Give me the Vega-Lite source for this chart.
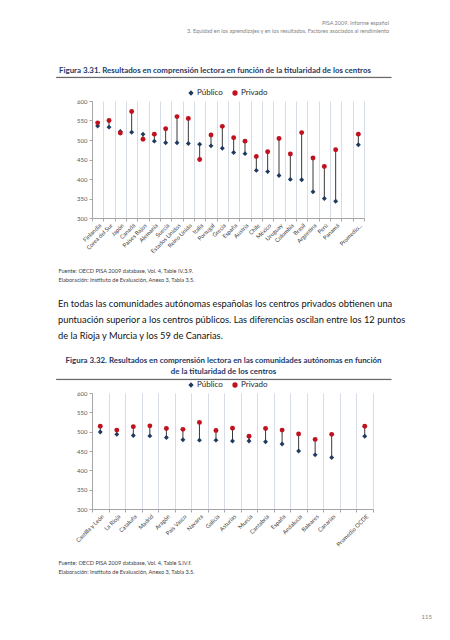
{
  "$schema": "https://vega.github.io/schema/vega-lite/v6.json",
  "padding": {"left": 55, "top": 20, "right": 0, "bottom": 0},
  "background": "white",
  "config": {
    "font": "Lato",
    "view": {"stroke": null},
    "title": {"frame": "group", "fontWeight": "normal"},
    "axis": {"labelFont": "Lato", "titleFont": "Lato"},
    "legend": {"labelFont": "Lato"}
  },
  "datasets": {
    "paises": [
      {"c": "Finlandia", "Público": 536, "Privado": 544},
      {"c": "Corea del Sur", "Público": 533, "Privado": 550},
      {"c": "Japón", "Público": 522, "Privado": 518},
      {"c": "Canadá", "Público": 520, "Privado": 573},
      {"c": "Países Bajos", "Público": 515, "Privado": 502},
      {"c": "Alemania", "Público": 497, "Privado": 515},
      {"c": "Suecia", "Público": 493, "Privado": 529},
      {"c": "Estados Unidos", "Público": 493, "Privado": 560},
      {"c": "Reino Unido", "Público": 491, "Privado": 555},
      {"c": "Italia", "Público": 489, "Privado": 450},
      {"c": "Portugal", "Público": 485, "Privado": 513},
      {"c": "Grecia", "Público": 479, "Privado": 535},
      {"c": "España", "Público": 468, "Privado": 506},
      {"c": "Austria", "Público": 465, "Privado": 497},
      {"c": "Chile", "Público": 422, "Privado": 458},
      {"c": "México", "Público": 419, "Privado": 470},
      {"c": "Uruguay", "Público": 409, "Privado": 504},
      {"c": "Colombia", "Público": 399, "Privado": 464},
      {"c": "Brasil", "Público": 398, "Privado": 519},
      {"c": "Argentina", "Público": 367, "Privado": 454},
      {"c": "Perú", "Público": 350, "Privado": 432},
      {"c": "Panamá", "Público": 343, "Privado": 475},
      {"c": "Promedio...", "Público": 488, "Privado": 515}
    ],
    "ccaa": [
      {"c": "Castilla y León", "Público": 499, "Privado": 514},
      {"c": "La Rioja", "Público": 493, "Privado": 504},
      {"c": "Cataluña", "Público": 490, "Privado": 513},
      {"c": "Madrid", "Público": 489, "Privado": 515},
      {"c": "Aragón", "Público": 485, "Privado": 508},
      {"c": "País Vasco", "Público": 479, "Privado": 506},
      {"c": "Navarra", "Público": 478, "Privado": 524},
      {"c": "Galicia", "Público": 478, "Privado": 503},
      {"c": "Asturias", "Público": 476, "Privado": 509},
      {"c": "Murcia", "Público": 476, "Privado": 488},
      {"c": "Cantabria", "Público": 474, "Privado": 508},
      {"c": "España", "Público": 468, "Privado": 504},
      {"c": "Andalucía", "Público": 450, "Privado": 494},
      {"c": "Baleares", "Público": 440, "Privado": 480},
      {"c": "Canarias", "Público": 433, "Privado": 493},
      {"c": "Promedio OCDE", "Público": 488, "Privado": 514}
    ]
  },
  "resolve": {"scale": {"color": "independent", "shape": "independent"}, "legend": {"color": "independent", "shape": "independent"}},
  "vconcat": [
    {
      "width": 335, "height": 41,
      "data": {"values": []}, "mark": {"type": "point", "opacity": 0}, "encoding": {},
      "title": {"text": ["PISA 2009. Informe español", "3. Equidad en los aprendizajes y en los resultados. Factores asociados al rendimiento"], "anchor": "end", "align": "right", "dx": -2, "fontSize": 5.5, "lineHeight": 8, "color": "#7F7F7F", "offset": 2}
    },
    {
      "width": 335, "height": 0.3,
      "view": {"stroke": "#595959", "strokeWidth": 0.8},
      "data": {"values": []}, "mark": {"type": "point", "opacity": 0}, "encoding": {},
      "title": {"text": "Figura 3.31. Resultados en comprensión lectora en función de la titularidad de los centros", "anchor": "start", "dx": 3, "offset": 2, "fontSize": 7.9, "fontWeight": "bold", "color": "#1F3864"}
    },
    {
      "width": 335, "height": 23,
      "data": {"values": []}, "mark": {"type": "point", "opacity": 0}, "encoding": {}
    },
    {
      "resolve": {"scale": {"color": "independent", "shape": "independent"}, "legend": {"color": "independent", "shape": "independent"}},
      "hconcat": [
        {"width": 36, "height": 117, "data": {"values": []}, "mark": {"type": "point", "opacity": 0}, "encoding": {}},
        {
          "width": 272, "height": 117,
          "data": {"name": "paises"},
          "encoding": {
            "x": {"field": "c", "type": "nominal",
              "scale": {"type": "band", "paddingInner": 0, "paddingOuter": 0, "domain": ["Finlandia", "Corea del Sur", "Japón", "Canadá", "Países Bajos", "Alemania", "Suecia", "Estados Unidos", "Reino Unido", "Italia", "Portugal", "Grecia", "España", "Austria", "Chile", "México", "Uruguay", "Colombia", "Brasil", "Argentina", "Perú", "Panamá", " ", "Promedio..."]},
              "axis": {"title": ["Fuente: OECD PISA 2009 database, Vol. 4, Table IV.3.9.", "Elaboración: Instituto de Evaluación, Anexo 3, Tabla 3.5."], "titleFontSize": 5.6, "titleColor": "#404040", "titleFontWeight": "normal", "titleAnchor": "start", "titleAlign": "left", "titleX": -34, "titleY": 50, "titleBaseline": "top", "titleLineHeight": 9, "labelAngle": -45, "labelFontSize": 5.8, "labelColor": "#404040", "labelPadding": 1, "labelOverlap": false, "labelBound": false, "tickBand": "extent", "grid": true, "gridColor": "#D6DDE8", "domainColor": "#A6A6A6", "tickColor": "#A6A6A6", "tickSize": 3}
            }
          },
          "layer": [
            {
              "mark": {"type": "rule", "color": "#3A3A3A", "strokeWidth": 1},
              "encoding": {
                "y": {"field": "Público", "type": "quantitative", "scale": {"domain": [300, 600], "nice": false}, "axis": {"title": null, "values": [300, 350, 400, 450, 500, 550, 600], "labelFontSize": 6, "labelColor": "#595959", "domainColor": "#A6A6A6", "tickColor": "#A6A6A6", "tickSize": 3, "grid": false, "labelPadding": 2}},
                "y2": {"field": "Privado"}
              }
            },
            {
              "transform": [{"fold": ["Público", "Privado"], "as": ["tipo", "valor"]}],
              "mark": {"type": "point", "filled": true, "size": 24, "opacity": 1},
              "encoding": {
                "y": {"field": "valor", "type": "quantitative", "scale": {"domain": [300, 600], "nice": false}, "axis": {"title": null, "values": [300, 350, 400, 450, 500, 550, 600], "labelFontSize": 6, "labelColor": "#595959", "domainColor": "#A6A6A6", "tickColor": "#A6A6A6", "tickSize": 3, "grid": false, "labelPadding": 2}},
                "color": {"field": "tipo", "type": "nominal", "scale": {"domain": ["Público", "Privado"], "range": ["#1F3A5F", "#C0111F"]}, "legend": {"orient": "none", "legendX": 95, "legendY": -12, "direction": "horizontal", "title": null, "labelFontSize": 8, "labelColor": "#262626", "symbolSize": 28, "columnPadding": 8, "labelOffset": 2}},
                "shape": {"field": "tipo", "type": "nominal", "scale": {"domain": ["Público", "Privado"], "range": ["diamond", "circle"]}, "legend": {"orient": "none", "legendX": 95, "legendY": -12, "direction": "horizontal", "title": null, "labelFontSize": 8, "labelColor": "#262626", "symbolSize": 28, "columnPadding": 8, "labelOffset": 2}}
              }
            }
          ]
        }
      ],
      "spacing": 0, "bounds": "flush"
    },
    {
      "width": 335, "height": 241,
      "data": {"values": []}, "mark": {"type": "point", "opacity": 0}, "encoding": {}
    },
    {
      "width": 335, "height": 37,
      "data": {"values": []}, "mark": {"type": "point", "opacity": 0}, "encoding": {},
      "title": {"text": ["En todas las comunidades autónomas españolas los centros privados obtienen una", "puntuación superior a los centros públicos. Las diferencias oscilan entre los 12 puntos", "de la Rioja y Murcia y los 59 de Canarias."], "anchor": "start", "align": "left", "dx": 2, "offset": 1, "fontSize": 9.3, "lineHeight": 16, "color": "#111111"}
    },
    {
      "width": 335, "height": 0.3,
      "view": {"stroke": "#595959", "strokeWidth": 0.8},
      "data": {"values": []}, "mark": {"type": "point", "opacity": 0}, "encoding": {},
      "title": {"text": ["Figura 3.32. Resultados en comprensión lectora en las comunidades autónomas en función", "de la titularidad de los centros"], "anchor": "middle", "offset": 3, "fontSize": 7.9, "lineHeight": 11, "fontWeight": "bold", "color": "#1F3864"}
    },
    {
      "width": 335, "height": 13,
      "data": {"values": []}, "mark": {"type": "point", "opacity": 0}, "encoding": {}
    },
    {
      "resolve": {"scale": {"color": "independent", "shape": "independent"}, "legend": {"color": "independent", "shape": "independent"}},
      "hconcat": [
        {"width": 36, "height": 116, "data": {"values": []}, "mark": {"type": "point", "opacity": 0}, "encoding": {}},
        {
          "width": 281, "height": 116,
          "data": {"name": "ccaa"},
          "encoding": {
            "x": {"field": "c", "type": "nominal",
              "scale": {"type": "band", "paddingInner": 0, "paddingOuter": 0, "domain": ["Castilla y León", "La Rioja", "Cataluña", "Madrid", "Aragón", "País Vasco", "Navarra", "Galicia", "Asturias", "Murcia", "Cantabria", "España", "Andalucía", "Baleares", "Canarias", " ", "Promedio OCDE"]},
              "axis": {"title": ["Fuente: OECD PISA 2009 database, Vol. 4, Table S.IV.f.", "Elaboración: Instituto de Evaluación, Anexo 3, Tabla 3.5."], "titleFontSize": 5.6, "titleColor": "#404040", "titleFontWeight": "normal", "titleAnchor": "start", "titleAlign": "left", "titleX": -34, "titleY": 51, "titleBaseline": "top", "titleLineHeight": 9, "labelAngle": -45, "labelFontSize": 5.8, "labelColor": "#404040", "labelPadding": 1, "labelOverlap": false, "labelBound": false, "tickBand": "extent", "grid": true, "gridColor": "#D6DDE8", "domainColor": "#A6A6A6", "tickColor": "#A6A6A6", "tickSize": 3}
            }
          },
          "layer": [
            {
              "mark": {"type": "rule", "color": "#3A3A3A", "strokeWidth": 1},
              "encoding": {
                "y": {"field": "Público", "type": "quantitative", "scale": {"domain": [300, 600], "nice": false}, "axis": {"title": null, "values": [300, 350, 400, 450, 500, 550, 600], "labelFontSize": 6, "labelColor": "#595959", "domainColor": "#A6A6A6", "tickColor": "#A6A6A6", "tickSize": 3, "grid": false, "labelPadding": 2}},
                "y2": {"field": "Privado"}
              }
            },
            {
              "transform": [{"fold": ["Público", "Privado"], "as": ["tipo", "valor"]}],
              "mark": {"type": "point", "filled": true, "size": 24, "opacity": 1},
              "encoding": {
                "y": {"field": "valor", "type": "quantitative", "scale": {"domain": [300, 600], "nice": false}, "axis": {"title": null, "values": [300, 350, 400, 450, 500, 550, 600], "labelFontSize": 6, "labelColor": "#595959", "domainColor": "#A6A6A6", "tickColor": "#A6A6A6", "tickSize": 3, "grid": false, "labelPadding": 2}},
                "color": {"field": "tipo", "type": "nominal", "scale": {"domain": ["Público", "Privado"], "range": ["#1F3A5F", "#C0111F"]}, "legend": {"orient": "none", "legendX": 95, "legendY": -12, "direction": "horizontal", "title": null, "labelFontSize": 8, "labelColor": "#262626", "symbolSize": 28, "columnPadding": 8, "labelOffset": 2}},
                "shape": {"field": "tipo", "type": "nominal", "scale": {"domain": ["Público", "Privado"], "range": ["diamond", "circle"]}, "legend": {"orient": "none", "legendX": 95, "legendY": -12, "direction": "horizontal", "title": null, "labelFontSize": 8, "labelColor": "#262626", "symbolSize": 28, "columnPadding": 8, "labelOffset": 2}}
              }
            }
          ]
        }
      ],
      "spacing": 0, "bounds": "flush"
    },
    {
      "width": 335, "height": 221,
      "data": {"values": []}, "mark": {"type": "point", "opacity": 0}, "encoding": {},
      "title": {"text": "115", "orient": "bottom", "anchor": "end", "dx": 41, "offset": 0, "fontSize": 6, "color": "#7F7F7F"}
    }
  ],
  "spacing": 0,
  "bounds": "flush"
}
